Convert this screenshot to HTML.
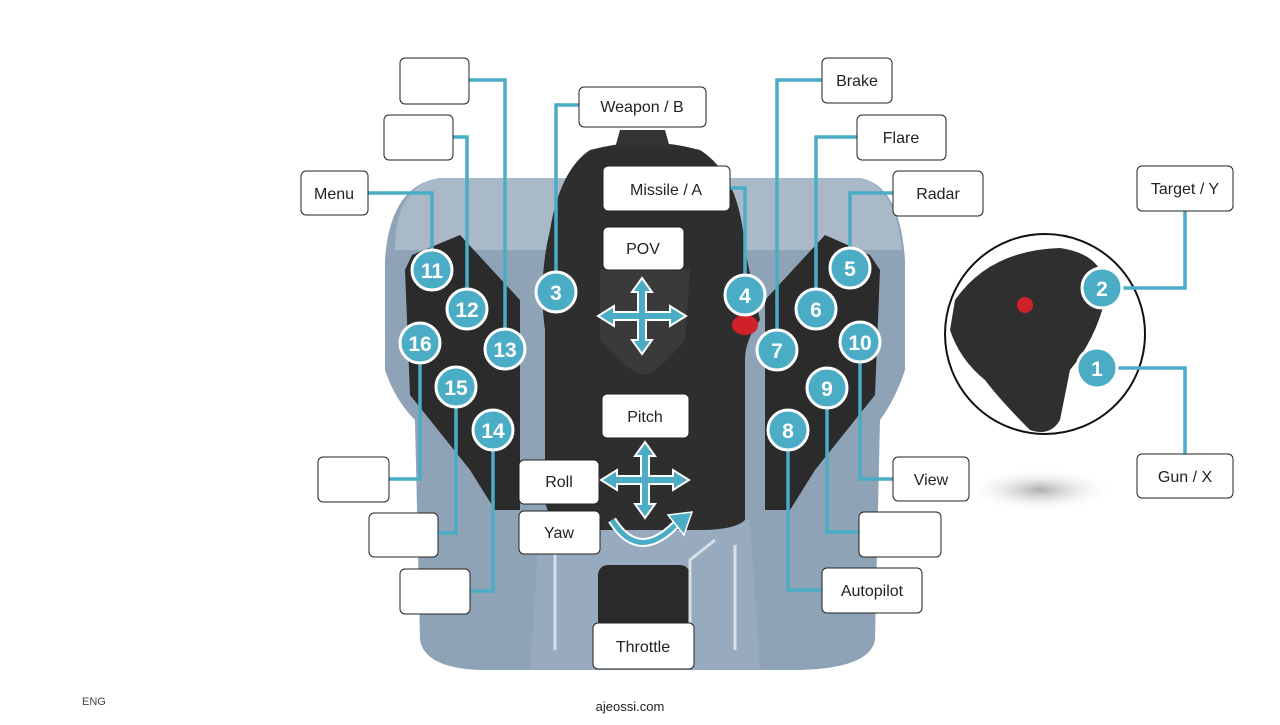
<!DOCTYPE html>
<html><head><meta charset="utf-8"><style>
body{margin:0;width:1280px;height:720px;background:#fff;overflow:hidden;font-family:"Liberation Sans",sans-serif}
</style></head><body>
<svg width="1280" height="720" xmlns="http://www.w3.org/2000/svg" font-family="Liberation Sans, sans-serif">
<defs>
<radialGradient id="sh" cx="50%" cy="50%" r="50%"><stop offset="0" stop-color="#999" stop-opacity=".8"/><stop offset="1" stop-color="#fff" stop-opacity="0"/></radialGradient>
</defs>
<!-- base -->
<path d="M440 178 L860 178 Q900 185 905 260 L905 370 Q895 400 880 420 L875 640 Q870 668 800 670 L480 670 Q425 668 420 640 L415 420 Q395 400 385 370 L385 260 Q390 185 440 178 Z" fill="#8fa3b7"/>
<path d="M440 178 L860 178 Q895 185 902 250 L760 250 L540 250 L395 250 Q395 185 440 178Z" fill="#a9b9c8"/>
<path d="M540 520 L750 520 L760 670 L530 670Z" fill="#98abbe"/>
<!-- side panels -->
<path d="M412 255 L460 235 L520 300 L520 510 L495 510 L470 470 L410 395 L405 270Z" fill="#2b2b2b"/>
<path d="M870 255 L825 235 L765 300 L765 510 L790 510 L815 470 L875 395 L880 270Z" fill="#2b2b2b"/>
<!-- stick -->
<path d="M590 150 Q645 135 700 150 Q740 175 745 250 L760 320 Q745 340 745 360 L745 520 Q735 530 700 530 L590 530 Q548 528 545 500 L545 330 Q538 280 550 230 Q560 170 590 150Z" fill="#2e2e2e"/>
<path d="M600 270 Q645 255 690 270 L685 340 Q660 370 645 375 Q625 370 600 340Z" fill="#3a3a3a"/>
<ellipse cx="745" cy="325" rx="13" ry="10" fill="#d0202a"/>
<path d="M620 130 L665 130 L670 148 L615 148Z" fill="#333"/>
<!-- throttle -->
<rect x="598" y="565" width="92" height="75" rx="10" fill="#2a2a2a"/>
<path d="M555 545 L555 650 M735 545 L735 650 M715 540 L690 560 L690 640" stroke="#d9dfe5" stroke-width="3" fill="none"/>
<!-- inset -->
<ellipse cx="1040" cy="490" rx="75" ry="22" fill="url(#sh)"/>
<circle cx="1045" cy="334" r="100" fill="#fff" stroke="#111" stroke-width="2"/>
<path d="M955 300 Q990 250 1060 248 Q1110 255 1105 300 Q1095 340 1070 370 L1060 420 Q1050 437 1030 430 Q1000 400 985 380 Q960 360 950 330Z" fill="#2f2f2f"/>
<circle cx="1025" cy="305" r="8" fill="#d0202a"/>
<!-- connectors -->
<g stroke="#4bacc6" stroke-width="3.5" fill="none">
<path d="M469 80 H505 V349"/><path d="M453 137 H467 V309"/><path d="M368 193 H432 V270"/>
<path d="M579 105 H556 V292"/><path d="M730 188 H745 V295"/><path d="M822 80 H777 V350"/>
<path d="M857 137 H816 V309"/><path d="M893 193 H850 V268"/><path d="M893 479 H860 V342"/>
<path d="M859 532 H827 V388"/><path d="M822 590 H788 V430"/><path d="M389 479 H420 V343"/>
<path d="M438 533 H456 V387"/><path d="M470 591 H493 V430"/>
<path d="M1185 211 V288 H1102"/><path d="M1185 454 V368 H1097"/>
</g>
<!-- arrows -->
<g fill="#4bacc6" stroke="#fff" stroke-width="2">
<path d="M642 278 L652 292 L646 292 L646 312 L670 312 L670 306 L686 316 L670 326 L670 320 L646 320 L646 340 L652 340 L642 354 L632 340 L638 340 L638 320 L614 320 L614 326 L598 316 L614 306 L614 312 L638 312 L638 292 L632 292Z"/>
<path d="M645 442 L655 456 L649 456 L649 476 L673 476 L673 470 L689 480 L673 490 L673 484 L649 484 L649 504 L655 504 L645 518 L635 504 L641 504 L641 484 L617 484 L617 490 L601 480 L617 470 L617 476 L641 476 L641 456 L635 456Z"/>
</g>
<path d="M612 520 Q640 565 680 520" stroke="#fff" stroke-width="9" fill="none"/>
<path d="M612 520 Q640 565 680 520" stroke="#4bacc6" stroke-width="5" fill="none"/>
<path d="M668 515 L692 512 L684 535Z" fill="#4bacc6" stroke="#fff" stroke-width="1.5"/>
<!-- boxes -->
<g fill="#fff" stroke="#222" stroke-width="1">
<rect x="400" y="58" width="69" height="46" rx="5"/><rect x="384" y="115" width="69" height="45" rx="5"/>
<rect x="301" y="171" width="67" height="44" rx="5"/><rect x="579" y="87" width="127" height="40" rx="5"/>
<rect x="603" y="166" width="127" height="45" rx="5"/><rect x="603" y="227" width="81" height="43" rx="5"/>
<rect x="602" y="394" width="87" height="44" rx="5"/><rect x="519" y="460" width="80" height="44" rx="5"/>
<rect x="519" y="511" width="81" height="43" rx="5"/><rect x="593" y="623" width="101" height="46" rx="5"/>
<rect x="822" y="58" width="70" height="45" rx="5"/><rect x="857" y="115" width="89" height="45" rx="5"/>
<rect x="893" y="171" width="90" height="45" rx="5"/><rect x="1137" y="166" width="96" height="45" rx="5"/>
<rect x="1137" y="454" width="96" height="44" rx="5"/><rect x="893" y="457" width="76" height="44" rx="5"/>
<rect x="859" y="512" width="82" height="45" rx="5"/><rect x="822" y="568" width="100" height="45" rx="5"/>
<rect x="318" y="457" width="71" height="45" rx="5"/><rect x="369" y="513" width="69" height="44" rx="5"/>
<rect x="400" y="569" width="70" height="45" rx="5"/>
</g>
<g font-size="16" fill="#222" text-anchor="middle">
<text x="334" y="199">Menu</text><text x="642" y="112">Weapon / B</text><text x="666" y="195">Missile / A</text>
<text x="643" y="254">POV</text><text x="645" y="422">Pitch</text><text x="559" y="487">Roll</text>
<text x="559" y="538">Yaw</text><text x="643" y="652">Throttle</text><text x="857" y="86">Brake</text>
<text x="901" y="143">Flare</text><text x="938" y="199">Radar</text><text x="1185" y="194">Target / Y</text>
<text x="1185" y="482">Gun / X</text><text x="931" y="485">View</text><text x="872" y="596">Autopilot</text>
</g>
<!-- numbered circles -->
<g fill="#4bacc6" stroke="#fff" stroke-width="3">
<circle cx="432" cy="270" r="20"/><circle cx="467" cy="309" r="20"/><circle cx="505" cy="349" r="20"/>
<circle cx="420" cy="343" r="20"/><circle cx="456" cy="387" r="20"/><circle cx="493" cy="430" r="20"/>
<circle cx="556" cy="292" r="20"/><circle cx="745" cy="295" r="20"/><circle cx="777" cy="350" r="20"/>
<circle cx="816" cy="309" r="20"/><circle cx="850" cy="268" r="20"/><circle cx="860" cy="342" r="20"/>
<circle cx="827" cy="388" r="20"/><circle cx="788" cy="430" r="20"/><circle cx="1102" cy="288" r="20"/>
<circle cx="1097" cy="368" r="20"/>
</g>
<g font-size="21" font-weight="bold" fill="#fff" text-anchor="middle">
<text x="432" y="278">11</text><text x="467" y="317">12</text><text x="505" y="357">13</text>
<text x="420" y="351">16</text><text x="456" y="395">15</text><text x="493" y="438">14</text>
<text x="556" y="300">3</text><text x="745" y="303">4</text><text x="777" y="358">7</text>
<text x="816" y="317">6</text><text x="850" y="276">5</text><text x="860" y="350">10</text>
<text x="827" y="396">9</text><text x="788" y="438">8</text><text x="1102" y="296">2</text>
<text x="1097" y="376">1</text>
</g>
<text x="82" y="705" font-size="11" fill="#444">ENG</text>
<text x="630" y="711" font-size="13" fill="#222" text-anchor="middle">ajeossi.com</text>
</svg>
</body></html>
